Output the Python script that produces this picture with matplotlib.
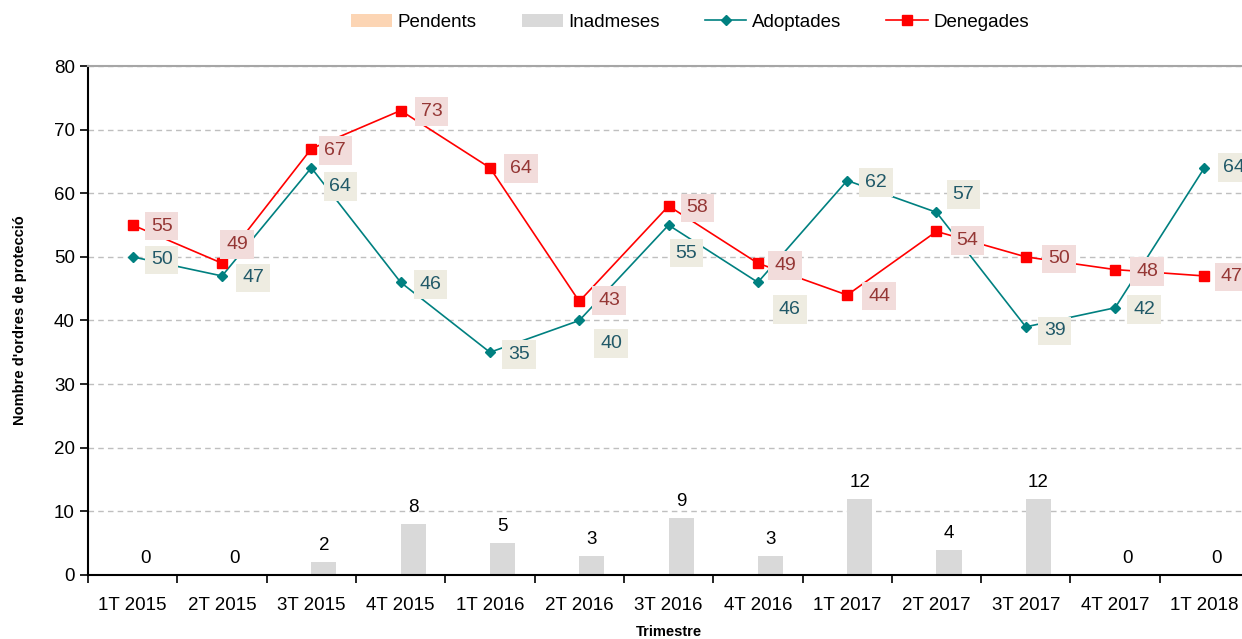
import matplotlib
matplotlib.use('Agg')
import matplotlib.pyplot as plt
import numpy as np

# data
trimestres = ['1T 2015', '2T 2015', '3T 2015', '4T 2015', '1T 2016', '2T 2016', '3T 2016',
              '4T 2016', '1T 2017', '2T 2017', '3T 2017', '4T 2017', '1T 2018']
pendents = [0, 0, 0, 0, 0, 0, 0, 0, 0, 0, 0, 0, 0]
inadmeses = [0, 0, 2, 8, 5, 3, 9, 3, 12, 4, 12, 0, 0]
adoptades = [50, 47, 64, 46, 35, 40, 55, 46, 62, 57, 39, 42, 64]
denegades = [55, 49, 67, 73, 64, 43, 58, 49, 44, 54, 50, 48, 47]

# label offsets (pixels) so the boxes don't overlap
adopt_dx = [29, 31, 29, 30, 29, 32, 18, 32, 29, 27, 29, 29, 30]
adopt_dy = [-3, -2, -19, -2, -2, -23, -28, -27, -2, 18, -4, -2, 0]
deneg_dx = [29, 15, 24, 31, 31, 30, 29, 27, 32, 31, 33, 32, 27]
deneg_dy = [-1, 19, -2, -1, -1, 1, -2, -2, -1, -9, -2, -2, -1]

plt.rcParams['font.family'] = ['Liberation Sans', 'DejaVu Sans']

fig = plt.figure(figsize=(12.42, 6.39), dpi=100)
ax = fig.add_axes([0.0709, 0.1002, 0.9348, 0.7965])

x = np.arange(len(trimestres))
w = 0.28
b1 = ax.bar(x - w / 2, pendents, w, color='#fcd5b4', label='Pendents', zorder=2)
b2 = ax.bar(x + w / 2, inadmeses, w, color='#d9d9d9', label='Inadmeses', zorder=2)
l1, = ax.plot(x, adoptades, color='#008080', marker='D', markersize=5, lw=1.2, label='Adoptades', zorder=3)
l2, = ax.plot(x, denegades, color='#ff0000', marker='s', markersize=7.5, lw=1.2, label='Denegades', zorder=3)

for xi, v in zip(x, inadmeses):
    ax.annotate(str(v), (xi + w / 2, v), xytext=(0, 8), textcoords='offset pixels',
                ha='center', va='bottom', fontsize=13.5)

for xi, v, dx, dy in zip(x, adoptades, adopt_dx, adopt_dy):
    ax.annotate(str(v), (xi, v), xytext=(dx, dy), textcoords='offset pixels',
                ha='center', va='center', fontsize=14, color='#215968',
                bbox=dict(boxstyle='square,pad=0.3', fc='#eeece1', ec='none'), zorder=4)
for xi, v, dx, dy in zip(x, denegades, deneg_dx, deneg_dy):
    ax.annotate(str(v), (xi, v), xytext=(dx, dy), textcoords='offset pixels',
                ha='center', va='center', fontsize=14, color='#953735',
                bbox=dict(boxstyle='square,pad=0.3', fc='#f2dcdb', ec='none'), zorder=4)

ax.set_xlim(-0.5, len(trimestres) - 0.5)
ax.set_ylim(0, 80)
ax.set_yticks(range(0, 81, 10))
ax.set_xticks(x)
ax.set_xticklabels(trimestres, fontsize=13.5)
ax.set_xticks(np.arange(-0.5, len(trimestres)), minor=True)
ax.tick_params(axis='x', which='major', length=0, pad=16)
ax.tick_params(axis='x', which='minor', length=6, width=1.2, direction='out')
ax.tick_params(axis='y', labelsize=13.5, length=6, width=1.2, direction='out')

ax.yaxis.grid(True, linestyle=(0, (4, 3)), color='#bfbfbf', lw=1, zorder=0)
ax.set_axisbelow(True)
ax.spines['right'].set_visible(False)
ax.spines['top'].set_color('#a6a6a6')
ax.spines['top'].set_linewidth(1.5)
ax.spines['left'].set_linewidth(1.5)
ax.spines['bottom'].set_linewidth(1.5)

ax.set_ylabel("Nombre d'ordres de protecció", fontsize=10.5, fontweight='bold', labelpad=19)
ax.set_xlabel('Trimestre', fontsize=10.5, fontweight='bold', labelpad=8)

fig.legend([b1, b2, l1, l2], ['Pendents', 'Inadmeses', 'Adoptades', 'Denegades'],
           loc='center', bbox_to_anchor=(0.5555, 0.965), ncol=4, frameon=False, fontsize=13.5,
           handlelength=2.2, columnspacing=2.4, handletextpad=0.3)

fig.savefig('out.png', dpi=100)
